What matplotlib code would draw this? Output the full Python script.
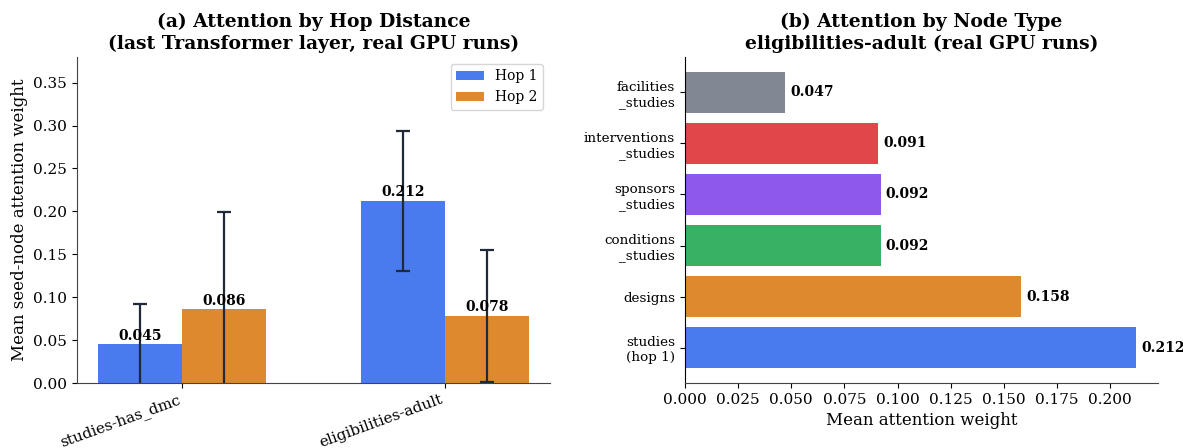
import matplotlib
matplotlib.use("Agg")
import matplotlib.pyplot as plt
import numpy as np

plt.rcParams['font.family'] = ['DejaVu Serif']

# Panel (a) data
relations = ["studies-has_dmc", "eligibilities-adult"]
hop1_mean = [0.045, 0.212]
hop1_err = [0.047, 0.082]
hop2_mean = [0.086, 0.078]
hop2_err = [0.113, 0.077]

# Panel (b) data
node_types = ["studies\n(hop 1)", "designs", "conditions\n_studies", "sponsors\n_studies",
              "interventions\n_studies", "facilities\n_studies"]
node_values = [0.212, 0.158, 0.092, 0.092, 0.091, 0.047]
node_colors = ["#4a7bee", "#dd8a2e", "#38b164", "#8e58ec", "#e0474b", "#828893"]

BLUE = "#4a7bee"
ORANGE = "#dd8a2e"
ERR = "#1f2937"

fig = plt.figure(figsize=(11.83, 4.48), dpi=100)
ax1 = fig.add_axes([0.065, 0.145, 0.400, 0.728])
ax2 = fig.add_axes([0.579, 0.145, 0.400, 0.728])

x = np.arange(len(relations))
w = 0.32
b1 = ax1.bar(x - w/2, hop1_mean, w, yerr=hop1_err, color=BLUE, label="Hop 1",
             error_kw=dict(ecolor=ERR, elinewidth=1.6, capsize=5, capthick=1.6))
b2 = ax1.bar(x + w/2, hop2_mean, w, yerr=hop2_err, color=ORANGE, label="Hop 2",
             error_kw=dict(ecolor=ERR, elinewidth=1.6, capsize=5, capthick=1.6))
for bars, vals in ((b1, hop1_mean), (b2, hop2_mean)):
    for r, v in zip(bars, vals):
        ax1.text(r.get_x() + r.get_width()/2, v + 0.002, f"{v:.3f}", ha="center", va="bottom",
                 fontsize=10, fontweight="bold")
ax1.set_ylim(0, 0.38)
ax1.set_xticks(x)
ax1.set_xticklabels(relations, rotation=20, ha="right", fontsize=11)
ax1.tick_params(axis="y", labelsize=11)
ax1.set_ylabel("Mean seed-node attention weight", fontsize=12)
ax1.set_title("(a) Attention by Hop Distance\n(last Transformer layer, real GPU runs)",
              fontsize=13.5, fontweight="bold")
ax1.legend(loc="upper right", fontsize=10)
for s in ("top", "right"):
    ax1.spines[s].set_visible(False)
for s in ("left", "bottom"):
    ax1.spines[s].set_color("#444444")

y = np.arange(len(node_types))
bars = ax2.barh(y, node_values, height=0.8, color=node_colors)
for r, v in zip(bars, node_values):
    ax2.text(v + 0.0025, r.get_y() + r.get_height()/2, f"{v:.3f}", ha="left", va="center",
             fontsize=10, fontweight="bold")
ax2.set_yticks(y)
ax2.set_yticklabels(node_types, fontsize=9.7, ha="right")
ax2.tick_params(axis="x", labelsize=11)
ax2.set_xlabel("Mean attention weight", fontsize=12)
ax2.set_title("(b) Attention by Node Type\neligibilities-adult (real GPU runs)",
              fontsize=13.5, fontweight="bold")
for s in ("top", "right"):
    ax2.spines[s].set_visible(False)
ax2.spines["bottom"].set_color("#444444")

fig.savefig("out.png", dpi=100)
